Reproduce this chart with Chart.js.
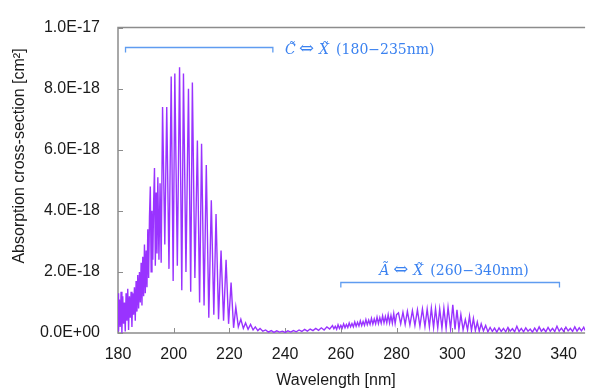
<!DOCTYPE html>
<html>
<head>
  <title>Absorption cross-section</title>
  <script src="https://cdn.jsdelivr.net/npm/chart.js"></script>
  <style>
    body {
      margin: 0;
      background: #fff;
    }
    .wrap {
      position: relative;
      width: 589px;
      height: 392px;
    }
  </style>
</head>
<body>
  <div class="wrap"><canvas id="spectrum"></canvas></div>

  <script>
    // wavelength [nm] and cross-section [1e-18 cm^2]
    const wavelengthNm = [
      180.0, 180.2, 180.5, 180.8, 181.1, 181.4, 181.7, 182.0, 182.3, 182.6,
      182.9, 183.2, 183.5, 183.8, 184.1, 184.4, 184.7, 185.0, 185.3, 185.6,
      185.9, 186.2, 186.5, 186.8, 187.1, 187.4, 187.7, 188.0, 188.3, 188.6,
      188.9, 189.2, 189.5, 189.8, 190.1, 190.4, 190.7, 191.0, 191.3, 191.6,
      191.9, 192.2, 192.5, 192.8, 193.1, 193.4, 193.7, 194.0, 194.3, 194.7,
      195.1, 195.5, 196.0, 196.8, 197.5, 198.3, 199.1, 199.8, 200.4, 201.3,
      202.1, 202.9, 203.5, 204.4, 205.3, 206.1, 206.7, 207.6, 208.5, 209.3,
      210.0, 210.9, 211.7, 212.6, 213.5, 214.4, 215.2, 216.1, 217.0, 217.9,
      218.8, 219.7, 220.6, 221.5, 222.3, 223.2, 224.1, 225.0, 225.8, 226.7,
      227.6, 228.5, 229.3, 230.2, 231.0, 232.0, 233.0, 234.0, 235.0, 236.0,
      237.0, 238.0, 239.0, 240.0, 241.0, 242.0, 243.0, 244.0, 245.0, 246.0,
      247.0, 248.0, 249.0, 250.0, 251.0, 252.0, 253.0, 254.0, 255.0, 256.0,
      257.0, 257.5, 258.0, 258.5, 259.0, 259.5, 260.0, 260.5, 261.0, 261.5,
      262.0, 262.5, 263.0, 263.5, 264.0, 264.5, 265.0, 265.5, 266.0, 266.5,
      267.0, 267.5, 268.0, 268.5, 269.0, 269.5, 270.0, 270.5, 271.0, 271.5,
      272.0, 272.5, 273.0, 273.5, 274.0, 274.5, 275.0, 275.5, 276.0, 276.5,
      277.0, 277.5, 278.0, 278.5, 279.0, 279.5, 280.0, 280.7, 281.5, 282.3,
      283.1, 283.9, 284.8, 285.7, 286.6, 287.5, 288.4, 289.3, 290.2, 291.0,
      291.8, 292.5, 293.3, 294.0, 294.8, 295.5, 296.3, 297.0, 297.8, 298.5,
      299.4, 300.2, 301.0, 301.7, 302.4, 303.1, 303.9, 304.7, 305.5, 306.2,
      306.9, 307.6, 308.3, 309.0, 309.7, 310.4, 311.2, 312.0, 312.8, 313.6,
      314.4, 315.2, 316.0, 316.8, 317.6, 318.4, 319.2, 320.0, 320.8, 321.6,
      322.4, 323.2, 324.0, 324.8, 325.6, 326.4, 327.2, 328.0, 328.8, 329.6,
      330.4, 331.2, 332.0, 332.8, 333.6, 334.4, 335.2, 336.0, 336.8, 337.6,
      338.4, 339.2, 340.0, 340.8, 341.6, 342.4, 343.2, 344.0, 344.8, 345.6,
      346.4, 347.2, 347.7
    ];
    const crossSectionE18 = [
      1.3, 0.05, 1.1, 0.2, 1.35, 0.0, 1.2, 0.3, 1.0, 0.05,
      1.3, 0.4, 1.45, 0.1, 1.2, 0.5, 1.35, 0.2, 1.3, 0.6,
      1.5, 0.4, 1.7, 0.7, 1.9, 0.8, 2.0, 1.0, 2.3, 0.9,
      2.5, 1.2, 2.9, 1.3, 2.7, 1.5, 3.4, 1.8, 3.8, 4.8,
      2.0, 4.0, 2.4, 4.3, 5.4, 2.2, 4.6, 2.6, 5.1, 2.4,
      4.9, 2.3, 7.4, 2.9, 7.4, 2.1, 8.4, 1.7, 8.5, 2.2,
      8.7, 1.4, 8.5, 2.0, 8.0, 1.35, 8.2, 1.8, 6.3, 1.0,
      6.2, 0.9, 5.5, 0.5, 4.35, 0.6, 3.9, 0.45, 2.7, 0.4,
      2.4, 0.3, 1.65, 0.17, 0.85, 0.2, 0.45, 0.15, 0.33, 0.12,
      0.28, 0.1, 0.2, 0.08, 0.15, 0.06, 0.1, 0.03, 0.08, 0.02,
      0.07, 0.03, 0.06, 0.02, 0.07, 0.03, 0.08, 0.04, 0.1, 0.05,
      0.12, 0.06, 0.13, 0.08, 0.15, 0.09, 0.17, 0.1, 0.2, 0.13,
      0.24, 0.14, 0.22, 0.12, 0.27, 0.15, 0.25, 0.16, 0.3, 0.17,
      0.28, 0.18, 0.33, 0.2, 0.31, 0.2, 0.36, 0.22, 0.35, 0.23,
      0.4, 0.24, 0.38, 0.25, 0.44, 0.27, 0.42, 0.28, 0.48, 0.29,
      0.46, 0.3, 0.52, 0.31, 0.5, 0.32, 0.56, 0.33, 0.54, 0.33,
      0.6, 0.33, 0.57, 0.32, 0.64, 0.31, 0.6, 0.66, 0.3, 0.68,
      0.28, 0.71, 0.26, 0.73, 0.25, 0.76, 0.22, 0.79, 0.21, 0.78,
      0.2, 0.81, 0.18, 0.8, 0.17, 0.79, 0.16, 0.81, 0.15, 0.84,
      0.14, 0.92, 0.12, 0.76, 0.12, 0.6, 0.1, 0.44, 0.1, 0.55,
      0.08, 0.48, 0.08, 0.36, 0.06, 0.3, 0.07, 0.25, 0.04, 0.18,
      0.05, 0.16, 0.03, 0.17, 0.05, 0.15, 0.04, 0.18, 0.06, 0.14,
      0.04, 0.22, 0.05, 0.15, 0.04, 0.17, 0.06, 0.13, 0.03, 0.16,
      0.05, 0.2, 0.06, 0.14, 0.04, 0.18, 0.06, 0.15, 0.05, 0.22,
      0.06, 0.16, 0.05, 0.19, 0.07, 0.15, 0.05, 0.2, 0.06, 0.17,
      0.07, 0.19, 0.08
    ];

    // band assignments drawn over the spectrum (data coordinates)
    const bands = [
      { from: 182.7, to: 235.6, level: 9.36, upper: "C", range: "(180\u2212235nm)", textX: 240.0, textY: 9.12 },
      { from: 260.0, to: 338.5, level: 1.67, upper: "A", range: "(260\u2212340nm)", textX: 273.8, textY: 1.89 }
    ];

    const sansFont = "'Liberation Sans', Arial, sans-serif";
    const serifFont = "'DejaVu Serif', 'Liberation Serif', serif";

    function sci(v) {
      if (Math.abs(v) < 1e-30) return "0.0E+00";
      const parts = v.toExponential(1).split("e");
      const n = parseInt(parts[1], 10);
      return parts[0] + "E" + (n < 0 ? "-" : "+") + String(Math.abs(n)).padStart(2, "0");
    }

    const framePlugin = {
      id: "frame",
      beforeDatasetsDraw(chart) {
        const { ctx, chartArea: a, scales: { x, y } } = chart;
        ctx.save();
        ctx.strokeStyle = "#8c8c8c";
        ctx.lineWidth = 1.5;
        ctx.beginPath();
        ctx.moveTo(a.right, a.top);
        ctx.lineTo(a.left, a.top);
        ctx.lineTo(a.left, a.bottom);
        ctx.lineTo(a.right, a.bottom);
        ctx.stroke();

        ctx.lineWidth = 1;
        ctx.beginPath();
        x.ticks.forEach(t => {
          const px = Math.round(x.getPixelForValue(t.value)) + 0.5;
          ctx.moveTo(px, a.bottom);
          ctx.lineTo(px, a.bottom - 5);
        });
        y.ticks.forEach(t => {
          const py = Math.round(y.getPixelForValue(t.value)) + 0.5;
          ctx.moveTo(a.left, py);
          ctx.lineTo(a.left + 5, py);
        });
        ctx.stroke();
        ctx.restore();
      },
      afterDatasetsDraw(chart) {
        const { ctx, scales: { x, y } } = chart;
        ctx.save();
        bands.forEach(b => {
          const x1 = x.getPixelForValue(b.from);
          const x2 = x.getPixelForValue(b.to);
          const yy = Math.round(y.getPixelForValue(b.level)) + 0.5;
          ctx.strokeStyle = "#5f9cf0";
          ctx.lineWidth = 1.3;
          ctx.beginPath();
          ctx.moveTo(x1, yy + 5);
          ctx.lineTo(x1, yy);
          ctx.lineTo(x2, yy);
          ctx.lineTo(x2, yy + 5);
          ctx.stroke();

          const tx = x.getPixelForValue(b.textX);
          const ty = y.getPixelForValue(b.textY);
          ctx.fillStyle = "#3b82f0";
          ctx.textBaseline = "alphabetic";
          ctx.textAlign = "left";
          ctx.font = "italic 14px " + serifFont;
          ctx.fillText(b.upper + "\u0303", tx, ty);
          ctx.fillText("X\u0303", tx + 34, ty);
          ctx.font = "14px " + serifFont;
          ctx.fillText(b.range, tx + 51, ty);
          ctx.font = "18px " + serifFont;
          ctx.fillText("\u21d4", tx + 14, ty);
        });
        ctx.restore();
      },
      afterDraw(chart) {
        const { ctx } = chart;
        ctx.save();
        ctx.fillStyle = "#1a1a1a";
        ctx.font = "16px " + sansFont;
        ctx.textAlign = "center";
        ctx.textBaseline = "middle";
        ctx.fillText("Wavelength [nm]", 336, 381);
        ctx.translate(20, 156);
        ctx.rotate(-Math.PI / 2);
        ctx.fillText("Absorption cross-section [cm\u00b2]", 0, 0);
        ctx.restore();
      }
    };

    new Chart(document.getElementById("spectrum"), {
      type: "line",
      data: {
        datasets: [{
          data: wavelengthNm.map((w, i) => ({ x: w, y: crossSectionE18[i] })),
          borderColor: "rgb(153, 51, 255)",
          borderWidth: 1.4,
          pointRadius: 0,
          tension: 0,
          fill: false
        }]
      },
      options: {
        responsive: true,
        maintainAspectRatio: false,
        animation: false,
        layout: { padding: { top: 21, right: 0, left: 0, bottom: 0 } },
        plugins: {
          legend: { display: false },
          tooltip: { enabled: false }
        },
        scales: {
          x: {
            type: "linear",
            min: 180,
            max: 347.7,
            afterFit: s => { s.height = 59; },
            grid: { display: false, drawTicks: false },
            border: { display: false },
            ticks: {
              stepSize: 20,
              includeBounds: false,
              autoSkip: false,
              maxRotation: 0,
              padding: 12,
              color: "#1a1a1a",
              font: { family: sansFont, size: 16 }
            }
          },
          y: {
            min: 0,
            max: 10,
            afterFit: s => { s.width = 118; },
            grid: { display: false, drawTicks: false },
            border: { display: false },
            ticks: {
              stepSize: 2,
              padding: 18,
              color: "#1a1a1a",
              font: { family: sansFont, size: 16 },
              callback: v => sci(v * 1e-18)
            }
          }
        }
      },
      plugins: [framePlugin]
    });
  </script>
</body>
</html>
